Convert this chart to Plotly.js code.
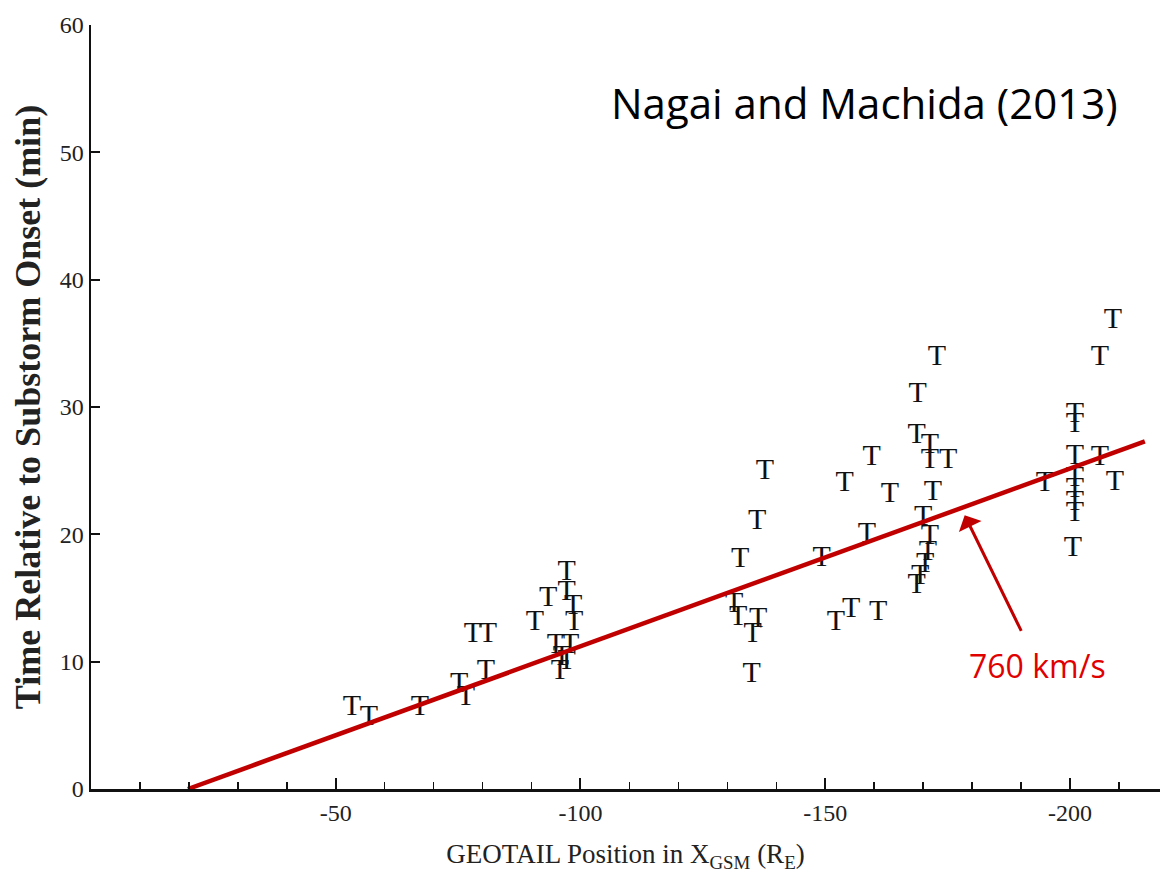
<!DOCTYPE html>
<html>
<head>
<meta charset="utf-8">
<script src="https://cdn.plot.ly/plotly-3.0.1.min.js"></script>
<style>html,body{margin:0;padding:0;background:#fff;}#chart{width:1166px;height:879px;}</style>
</head>
<body>
<div id="chart"></div>
<script>
// GEOTAIL position in X_GSM (Re) and time relative to substorm onset (min)
const xPos = [
  -53.3, -56.8, -67.2, -75.2, -76.6, -80.7, -78.0, -81.1, -90.7, -93.4,
  -97.2, -97.2, -98.5, -98.7, -95.0, -97.9, -96.2, -97.2, -95.8,
  -132.6, -136.1, -137.7, -131.4, -132.2, -136.3, -135.2, -135.0,
  -149.3, -152.2, -155.3, -160.8, -154.0, -158.5, -159.5, -163.2,
  -172.8, -168.9, -168.7, -171.4, -171.4, -175.1, -172.0, -170.0, -171.4, -171.0, -170.4, -169.4, -168.7,
  -208.8, -206.1, -201.0, -201.0, -201.0, -206.1, -194.9, -209.2, -201.0, -201.0, -201.0, -201.0, -200.6
];
const tOnset = [
  6.4, 5.6, 6.4, 8.2, 7.2, 9.2, 12.1, 12.1, 13.1, 15.0,
  17.0, 15.4, 14.3, 13.1, 11.3, 11.3, 10.3, 10.0, 9.2,
  18.0, 21.0, 24.9, 14.5, 13.5, 13.3, 12.1, 9.0,
  18.1, 13.1, 14.1, 13.9, 24.0, 20.0, 26.0, 23.1,
  33.9, 31.0, 27.8, 27.0, 25.8, 25.8, 23.3, 21.3, 19.8, 18.6, 17.6, 16.7, 16.0,
  36.8, 33.9, 29.4, 28.6, 26.1, 26.0, 24.0, 24.1, 24.4, 23.5, 22.5, 21.6, 18.9
];
// 760 km/s propagation line
const fitX = [-19.8, -215.3];
const fitY = [0, 27.3];

const xTickVals = [-50, -100, -150, -200];
const xTickText = ['-50', '-100', '-150', '-200'];
const xMinorVals = [-10, -20, -30, -40, -60, -70, -80, -90, -110, -120, -130, -140, -160, -170, -180, -190, -210];
const yTickVals = [0, 10, 20, 30, 40, 50, 60];
const yTickText = ['0', '10', '20', '30', '40', '50', '60'];

const serif = 'Liberation Serif, Times New Roman, serif';

const traces = [
  {
    x: xPos, y: tOnset, mode: 'text', type: 'scatter',
    text: xPos.map(() => 'T'),
    textposition: 'middle center',
    textfont: {family: serif, size: 30, color: '#111'},
    hoverinfo: 'x+y', showlegend: false
  },
  {
    x: fitX, y: fitY, mode: 'lines', type: 'scatter',
    line: {color: '#c00000', width: 4.5},
    showlegend: false, hoverinfo: 'skip'
  }
];

const layout = {
  width: 1166, height: 879,
  margin: {l: 91, r: 6, t: 25, b: 90},
  paper_bgcolor: '#fff', plot_bgcolor: '#fff',
  showlegend: false,
  xaxis: {
    range: [0, -218.4],
    showgrid: false, zeroline: false,
    showline: true, linecolor: '#111', linewidth: 3,
    ticks: 'inside', ticklen: 11, tickwidth: 2, tickcolor: '#111',
    tickvals: xTickVals, ticktext: xTickText,
    minor: {tickvals: xMinorVals, ticks: 'inside', ticklen: 7, tickwidth: 1.5, tickcolor: '#111'},
    tickfont: {family: serif, size: 24, color: '#222'},
    title: {text: 'GEOTAIL Position in X<sub>GSM</sub> (R<sub>E</sub>)', font: {family: serif, size: 27, color: '#222'}, standoff: 20},
    automargin: false
  },
  yaxis: {
    range: [0, 60],
    showgrid: false, zeroline: false,
    showline: true, linecolor: '#111', linewidth: 2.5,
    ticks: 'inside', ticklen: 9, tickwidth: 2, tickcolor: '#111',
    tickvals: yTickVals, ticktext: yTickText,
    tickfont: {family: serif, size: 24, color: '#222'},
    title: {text: '<b>Time Relative to Substorm Onset (min)</b>', font: {family: serif, size: 36, color: '#222'}, standoff: 8},
    automargin: false
  },
  annotations: [
    {x: -158.1, y: 53.9, xref: 'x', yref: 'y', text: 'Nagai and Machida (2013)', showarrow: false,
     font: {family: 'Open Sans, Noto Sans, sans-serif', size: 42, color: '#000'}},
    {x: -193.3, y: 9.7, xref: 'x', yref: 'y', text: '760 km/s', showarrow: false,
     font: {family: 'Open Sans, Noto Sans, sans-serif', size: 32, color: '#e00000'}},
    {x: -178.5, y: 21.5, xref: 'x', yref: 'y', ax: -190.2, ay: 12.3, axref: 'x', ayref: 'y',
     text: '', showarrow: true, arrowhead: 1, arrowsize: 1.4, arrowwidth: 3, arrowcolor: '#c00000', standoff: 0}
  ]
};

Plotly.newPlot('chart', traces, layout, {displayModeBar: false, staticPlot: true});
</script>
</body>
</html>
